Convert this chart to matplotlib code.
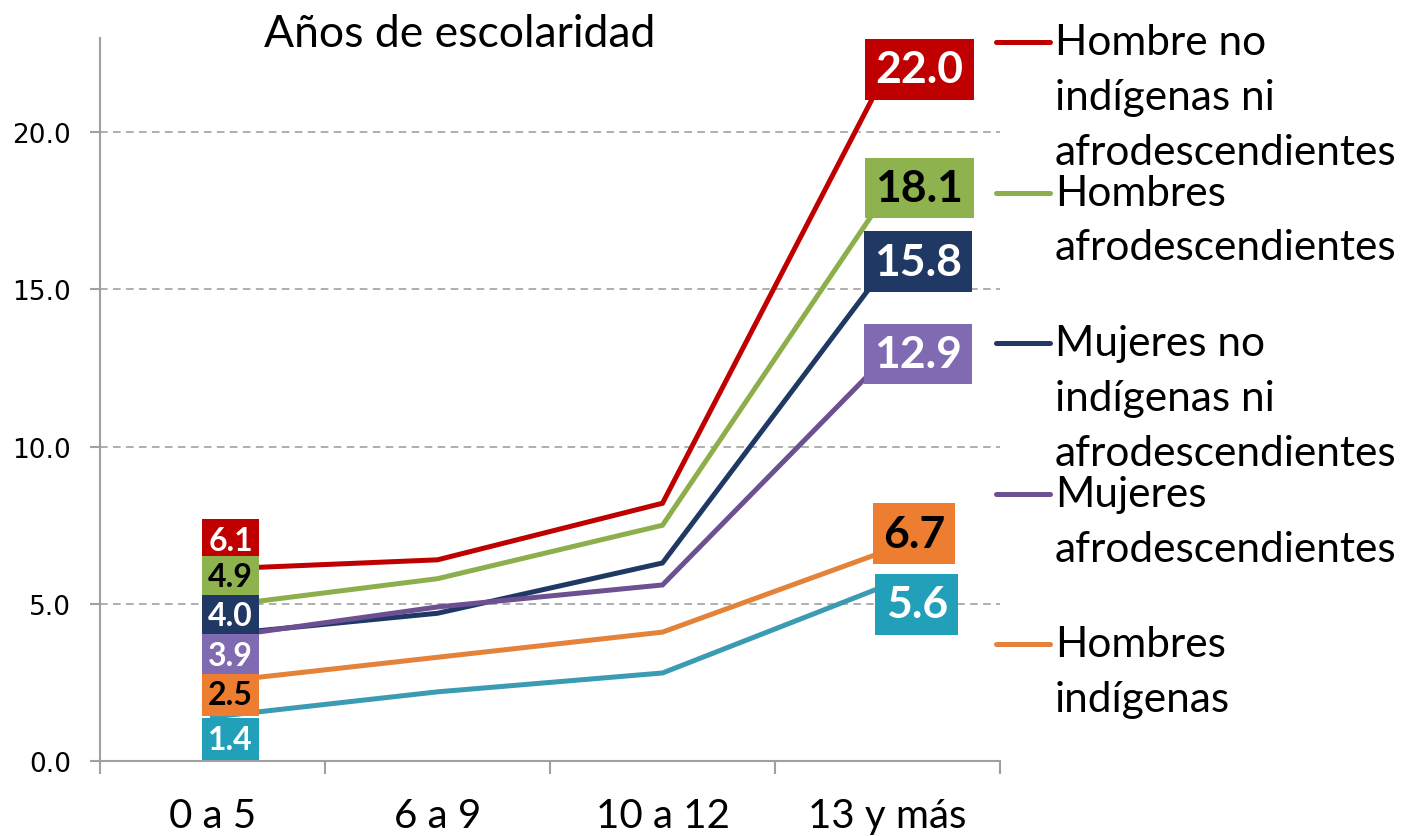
import matplotlib
matplotlib.use("Agg")
import matplotlib.pyplot as plt
from matplotlib.lines import Line2D

# ---------------- data ----------------
categories = ['0 a 5', '6 a 9', '10 a 12', '13 y más']
hombre_no_ind = [6.1, 6.4, 8.2, 22.0]
hombres_afro = [4.9, 5.8, 7.5, 18.1]
mujeres_no_ind = [4.0, 4.7, 6.3, 15.8]
mujeres_afro = [3.9, 4.9, 5.6, 12.9]
hombres_ind = [2.5, 3.3, 4.1, 6.7]
mujeres_ind = [1.4, 2.2, 2.8, 5.6]

series_names = ['Hombre no\nindígenas ni\nafrodescendientes',
                'Hombres\nafrodescendientes',
                'Mujeres no\nindígenas ni\nafrodescendientes',
                'Mujeres\nafrodescendientes',
                'Hombres\nindígenas',
                'Mujeres\nindígenas']
series_values = [hombre_no_ind, hombres_afro, mujeres_no_ind,
                 mujeres_afro, hombres_ind, mujeres_ind]
y_ticks = [0, 5, 10, 15, 20]
title = 'Años de escolaridad'

# ---------------- styles ----------------
line_colors = ['#C00000', '#8CAF4B', '#1F3864', '#6C5091', '#E4823A', '#3A9BB3']
box_colors = ['#C00000', '#8DB24E', '#203864', '#806AB2', '#ED7D31', '#23A0B9']
text_colors = ['white', 'black', 'white', 'white', 'black', 'white']
# label offsets (points) for first and last category
first_off = [(13, 21), (13, 22), (13, 14), (13, -12), (13, -9), (13, -16)]
last_off = [(23, 0), (23, 3), (22, 2), (22, 1), (19, 12), (21, -14)]
show_in_legend = [True, True, True, True, True, False]

FONT = 'Lato'
W, H = 1401, 837
fig = plt.figure(figsize=(W / 100, H / 100), dpi=100)
ax = fig.add_axes([100 / W, 1 - 762 / H, 900 / W, (762 - 39) / H])

x = list(range(len(categories)))
for vals, lc in zip(series_values, line_colors):
    ax.plot(x, vals, color=lc, lw=3.6, solid_joinstyle='miter', zorder=3)

for i, vals in enumerate(series_values):
    for idx, off, fs, pad in [(0, first_off[i], 23, 0.2), (len(x) - 1, last_off[i], 32, 0.23)]:
        ax.annotate(f'{vals[idx]:.1f}', xy=(x[idx], vals[idx]), xytext=off,
                    textcoords='offset points', ha='center', va='center',
                    fontsize=fs, fontweight='bold', family=FONT,
                    color=text_colors[i], zorder=5 + i,
                    bbox=dict(boxstyle=f'square,pad={pad}', fc=box_colors[i], ec='none'))

ax.set_xlim(-0.5, len(x) - 0.5)
ax.set_ylim(0, 23)
ax.set_yticks(y_ticks)
ax.set_yticklabels([f'{v:.1f}' for v in y_ticks], family='DejaVu Sans', fontsize=19)
ax.set_xticks([i - 0.5 for i in range(len(x) + 1)])
ax.set_xticklabels([])
ax.set_xticks(x, minor=True)
ax.set_xticklabels(categories, minor=True, family=FONT, fontsize=29)
ax.tick_params(axis='x', which='major', length=9.5, width=1.5, color='#A0A0A0', direction='out')
ax.tick_params(axis='x', which='minor', length=0, pad=26)
ax.tick_params(axis='y', length=7, width=1.5, color='#A0A0A0', direction='out', pad=14)
for s in ['top', 'right']:
    ax.spines[s].set_visible(False)
for s in ['left', 'bottom']:
    ax.spines[s].set_color('#A0A0A0')
    ax.spines[s].set_linewidth(1.5)
ax.yaxis.grid(True, color='#999999', lw=1.1, linestyle=(0, (5, 3.5)))
ax.set_axisbelow(True)

fig.text(460 / W, 1 - 47 / H, title, ha='center', va='baseline', family=FONT, fontsize=32)

# legend (manual)
k = 0
for i, name in enumerate(series_names):
    if not show_in_legend[i]:
        continue
    hy = 43 + k * 150.5
    fig.add_artist(Line2D([996 / W, 1050 / W], [1 - hy / H, 1 - hy / H],
                          transform=fig.transFigure, color=line_colors[i], lw=3.6,
                          solid_capstyle='round'))
    for j, line in enumerate(name.split('\n')):
        by = hy + 12 + j * 55
        fig.text(1055 / W, 1 - by / H, line, ha='left', va='baseline',
                 family=FONT, fontsize=30.5)
    k += 1

fig.savefig('out.png', dpi=100)
